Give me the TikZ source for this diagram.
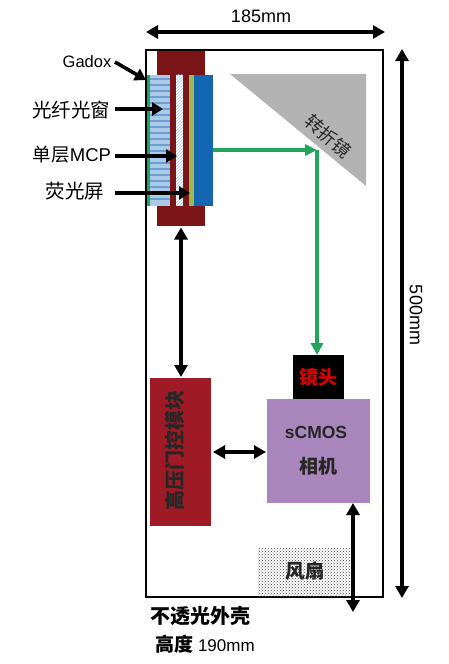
\documentclass[tikz,border=0pt]{standalone}
\usepackage{fontspec}
\setmainfont{Liberation Sans}
\newfontfamily\cjk{Noto Sans CJK SC}
\usepackage{xcolor}
\definecolor{holderred}{HTML}{7B1416}
\definecolor{moduleRed}{HTML}{9E1B25}
\definecolor{fibreblue}{HTML}{A9CBE8}
\definecolor{stripeblue}{HTML}{6C9FCF}
\definecolor{screenblue}{HTML}{1566B0}
\definecolor{raygreen}{HTML}{22A55A}
\definecolor{limegreen}{HTML}{9BBB50}
\definecolor{camerapurple}{HTML}{A987BC}
\definecolor{mirrorgray}{HTML}{B3B3B3}
\usepackage{tikz}
\usetikzlibrary{positioning, arrows.meta, patterns, calc}
\newcommand{\fs}[1]{\fontsize{#1}{#1}\selectfont}
\tikzset{
  block/.style={inner sep=0pt, outer sep=0pt},
  dimarrow/.style={line width=3.4pt, {Triangle[length=12pt,width=13pt]}-{Triangle[length=12pt,width=13pt]}},
  pointer/.style={line width=3.6pt, -{Triangle[length=11pt,width=13pt]}},
  ray/.style={line width=3.4pt, draw=raygreen}
}
\begin{document}
\begin{tikzpicture}[x=1pt, y=-1pt]
  \useasboundingbox (0,0) rectangle (449,664);

  % housing
  \node[block, draw, line width=2.8pt, minimum width=237pt, minimum height=547pt] (shell) at (264.5,323.5) {};

  % detector stack
  \node[block, fill=holderred, minimum width=48pt, minimum height=175pt] (holder) at (181,138) {};
  \node[block, fill=fibreblue, minimum width=20pt, minimum height=131pt] (fibre) at (159.5,140) {};
  \foreach \yy in {78,84,...,202}
    \fill[stripeblue] (149.5,\yy) rectangle (169.5,\yy+2);
  \node[block, fill=raygreen, minimum width=3pt, minimum height=131pt, left=0pt of fibre] (gadoxlayer) {};
  \node[block, preaction={fill=white}, pattern=north east lines, pattern color=fibreblue, minimum width=7pt, minimum height=131pt] (mcp) at (179.5,140) {};
  \node[block, fill=limegreen, minimum width=5pt, minimum height=131pt] (phosphor) at (191.5,140) {};
  \node[block, fill=screenblue, minimum width=19pt, minimum height=131pt, right=0pt of phosphor] (screen) {};

  % mirror
  \fill[mirrorgray] (230,74) -- (366,74) -- (366,186) -- cycle;
  \node[rotate=-41, font=\cjk\fs{18}, text=black!85] (mirrorlabel) at (328,136) {转折镜};

  % lower blocks
  \node[block, fill=moduleRed, minimum width=61pt, minimum height=148pt] (hvmodule) at (180.5,452) {};
  \node[rotate=90, font=\cjk\bfseries\fs{20}, text=black!85] (hvlabel) at (175,450) {高压门控模块};
  \node[block, fill=camerapurple, minimum width=103pt, minimum height=104pt] (camera) at (318.5,451) {};
  \node[block, fill=black, minimum width=51pt, minimum height=44pt, above=0pt of camera] (lens) {};
  \node[font=\cjk\bfseries\fs{19}, text=red!85!black] (lenslabel) at (lens) {镜头};
  \node[font=\bfseries\fs{17.5}, text=black!85] (scmoslabel) at (316,432) {sCMOS};
  \node[font=\cjk\bfseries\fs{19}, text=black!85] (cameralabel) at (318,466) {相机};
  \node[block, pattern=crosshatch dots, pattern color=black!75, minimum width=92pt, minimum height=48pt] (fan) at (304,572) {};
  \node[font=\cjk\bfseries\fs{19.5}, text=black!85] (fanlabel) at (305,571) {风扇};

  % beam
  \coordinate (rayout) at (screen.east |- 0,150);
  \coordinate (raybend) at (317,150);
  \draw[ray, -{Triangle[length=12pt,width=11pt]}] (rayout) -- (raybend);
  \draw[ray, -{Triangle[length=12pt,width=12pt]}] (raybend) -- (raybend |- lens.north);

  % links
  \coordinate (hvtop) at (181,377);
  \draw[dimarrow] (holder.south -| hvtop) ++(0,2) -- (hvtop);
  \draw[dimarrow] ($(hvmodule.east |- 0,452)+(2,0)$) -- ($(camera.west |- 0,452)+(-1,0)$);
  \coordinate (fanend) at (353,612);
  \draw[dimarrow] (camera.south -| fanend) -- (fanend);

  % sizes
  \coordinate (widthleft) at (146,32);
  \coordinate (widthright) at (385,32);
  \coordinate (heighttop) at (402,49);
  \coordinate (heightbottom) at (402,598);
  \draw[dimarrow] (widthleft) -- (widthright);
  \draw[dimarrow] (heighttop) -- (heightbottom);
  \node[font=\fs{18}] (widthlabel) at (261,16) {185mm};
  \node[rotate=-90, font=\fs{18}] (heightlabel) at (416,315) {500mm};

  % part labels
  \node[font=\fs{16.5}] (gadoxlabel) at (87,62) {Gadox};
  \node[font=\cjk\fs{19.5}] (fibrelabel) at (71,110) {光纤光窗};
  \node[font=\fs{18.5}] (mcplabel) at (72,155) {{\cjk 单层}MCP};
  \node[font=\cjk\fs{19.5}] (phosphorlabel) at (75,191) {荧光屏};
  \coordinate (gadoxtail) at (115,62);
  \coordinate (gadoxtip) at (146,80);
  \coordinate (fibretail) at (115,109);
  \coordinate (fibretip) at (163,109);
  \coordinate (mcptail) at (115,156);
  \coordinate (mcptip) at (177,156);
  \coordinate (phosphortail) at (115,193);
  \coordinate (phosphortip) at (190,193);
  \draw[pointer] (gadoxtail) -- (gadoxtip);
  \draw[pointer] (fibretail) -- (fibretip);
  \draw[pointer] (mcptail) -- (mcptip);
  \draw[pointer] (phosphortail) -- (phosphortip);

  % caption
  \node[font=\cjk\bfseries\fs{20}] (shelllabel) at (200,616) {不透光外壳};
  \node[font=\fs{17}] (heightnote) at (205,644) {{\cjk\bfseries\fs{19}高度} 190mm};
\end{tikzpicture}
\end{document}
